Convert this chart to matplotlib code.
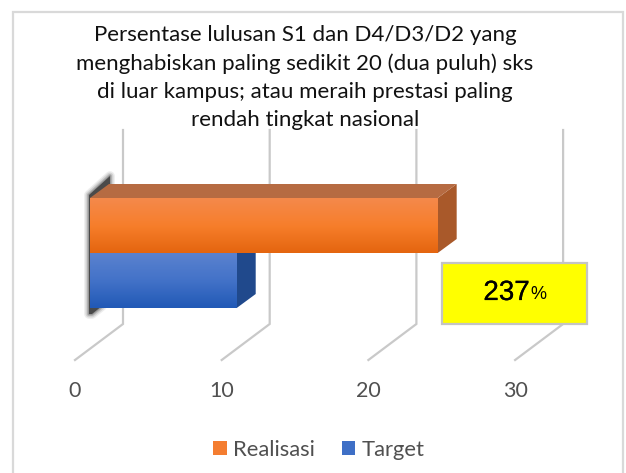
#!/usr/bin/env python3
import numpy as np
import matplotlib
matplotlib.use("Agg")
import matplotlib.pyplot as plt
import matplotlib.patheffects as pe
from matplotlib.colors import LinearSegmentedColormap
from matplotlib.patches import Patch, Polygon, Rectangle

plt.rcParams['font.family'] = ['Lato', 'DejaVu Sans']

# === DATA ===
categories = ["Realisasi", "Target"]
values = [23.7, 10]
ticks = [0, 10, 20, 30]
title = ("Persentase lulusan S1 dan D4/D3/D2 yang\n"
         "menghabiskan paling sedikit 20 (dua puluh) sks\n"
         "di luar kampus; atau meraih prestasi paling\n"
         "rendah tingkat nasional")
note_value = "237"

# === LAYOUT (x axis in data units, y axis in pixels) ===
W, H = 626, 473
PX_PER_UNIT = 14.67
X0 = 90
DEPTH_X = 19 / PX_PER_UNIT
DEPTH_Y = 14
BACK = 33 / PX_PER_UNIT
FRONT = -15 / PX_PER_UNIT
bar_top = [198, 253]
bar_h = 55

fig = plt.figure(figsize=(W / 100, H / 100), dpi=100)
ax = fig.add_axes([0, 0, 1, 1])
xlim = (-X0 / PX_PER_UNIT, (W - X0) / PX_PER_UNIT)
ylim = (H, 0)
ax.axis('off')


def px(x):
    return (x - X0) / PX_PER_UNIT


# chart frame (runs off the bottom of the image)
ax.add_patch(Rectangle((px(12.5), 12.5), 610.5 / PX_PER_UNIT, H, fc='white',
                       ec='#d9d9d9', lw=1.6, zorder=0))

# gridlines: back wall down to the floor, then towards the viewer
for t in ticks:
    ax.plot([t + BACK, t + BACK, t + FRONT], [130, 324, 360], color='#c9c9c9',
            lw=1.6, zorder=1, solid_joinstyle='miter')

# blurred shadow on the left wall
wall = [(px(110), 176), (px(110), 186), (px(92), 198), (px(92), 306), (px(102), 306),
        (px(92), 314), (px(89), 314), (px(89), 195)]
for lw, alpha in [(7, 0.10), (5, 0.16), (3, 0.25), (1.5, 0.3)]:
    ax.add_patch(Polygon(wall, fc='none', ec='#555555', lw=lw, alpha=alpha, zorder=2,
                         joinstyle='round'))
ax.add_patch(Polygon(wall, fc='#4a4a4a', ec='none', zorder=2))

top_cmaps = [
    LinearSegmentedColormap.from_list('o', ['#f4894b', '#f77e2b', '#e4650f']),
    LinearSegmentedColormap.from_list('b', ['#5a82cf', '#4372c8', '#2159b6']),
]
side_colors = ['#a9592a', '#20498c']
roof_colors = ['#b66b42', '#2a5298']

for i, (val, top) in enumerate(zip(values, bar_top)):
    bottom = top + bar_h
    ax.add_patch(Polygon([(val, top), (val + DEPTH_X, top - DEPTH_Y),
                          (val + DEPTH_X, bottom - DEPTH_Y), (val, bottom)],
                         fc=side_colors[i], ec='none', zorder=3))
    ax.add_patch(Polygon([(0, top), (DEPTH_X, top - DEPTH_Y),
                          (val + DEPTH_X, top - DEPTH_Y), (val, top)],
                         fc=roof_colors[i], ec='none', zorder=3 if i == 0 else 2.5))
    grad = np.linspace(0, 1, 64).reshape(-1, 1)
    ax.imshow(grad, cmap=top_cmaps[i], extent=[0, val, bottom, top], aspect='auto',
              zorder=4, interpolation='bilinear')

ax.set_xlim(xlim)
ax.set_ylim(ylim)

# tick labels
for t in ticks:
    ax.text(t + FRONT, 391, str(t), ha='center', va='center', fontsize=15.5,
            color='#505050', zorder=5)

# yellow note box
ax.add_patch(Rectangle((px(442), 263), 145 / PX_PER_UNIT, 61, fc='#ffff00',
                       ec='#c4c4c4', lw=1.6, zorder=6))
ax.text(px(506.5), 293, note_value, ha='center', va='center', fontsize=20,
        family='Liberation Sans', color='black', zorder=7,
        path_effects=[pe.withStroke(linewidth=0.15, foreground='black')])
ax.text(px(530), 294, "%", ha='left', va='center', fontsize=13,
        family='Liberation Sans', color='black', zorder=7)

ax.text(px(305), 77.5, title, ha='center', va='center', fontsize=16, color='#111111',
        linespacing=1.52, zorder=7)

handles = [Patch(fc='#f47d30', ec='none'), Patch(fc='#3e6fc6', ec='none')]
ax.legend(handles, categories, ncol=2, frameon=False, loc='center',
          bbox_to_anchor=(319 / W, 1 - 450 / H), fontsize=15.8, labelcolor='#505050',
          handlelength=0.63, handleheight=0.63, handletextpad=0.3, columnspacing=1.2)

plt.savefig("out.png", dpi=100)
plt.close()
